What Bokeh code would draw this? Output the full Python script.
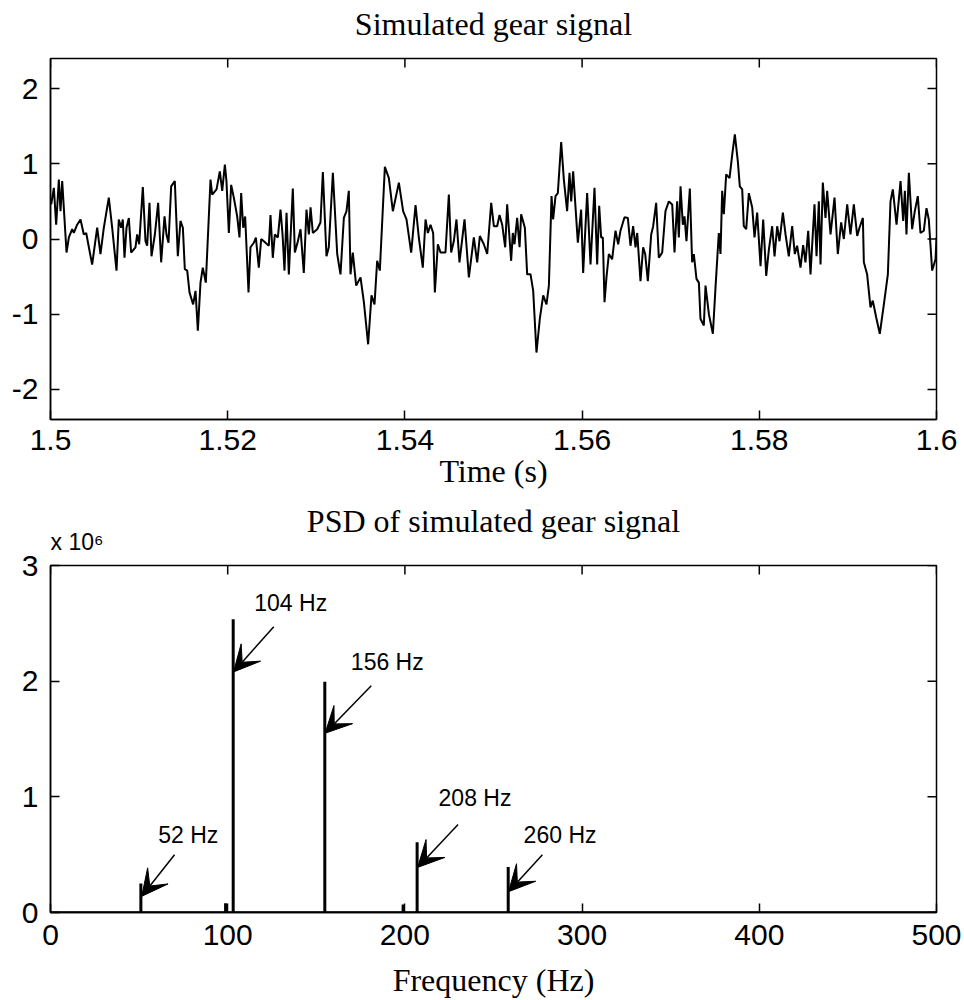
import math
from bokeh.plotting import figure
from bokeh.models import (Range1d, FixedTicker, Arrow, VeeHead, ColumnDataSource, LinearAxis)
from bokeh.layouts import column
from bokeh.core.properties import value
from bokeh.embed import file_html
from bokeh.resources import INLINE

# ---------------- data: simulated gear signal (time in s, amplitude) ----------------
time_s = [
    1.50008, 1.50038, 1.50064, 1.50094, 1.50113, 1.50132, 1.50150, 1.50181, 1.50207, 1.50245,
    1.50263, 1.50301, 1.50339, 1.50376, 1.50403, 1.50433, 1.50470, 1.50527, 1.50564, 1.50602,
    1.50658, 1.50696, 1.50745, 1.50771, 1.50798, 1.50816, 1.50835, 1.50858, 1.50884, 1.50910,
    1.50959, 1.50978, 1.51001, 1.51042, 1.51072, 1.51091, 1.51117, 1.51140, 1.51178, 1.51215,
    1.51249, 1.51287, 1.51309, 1.51332, 1.51362, 1.51403, 1.51437, 1.51467, 1.51494, 1.51516,
    1.51543, 1.51569, 1.51610, 1.51637, 1.51663, 1.51693, 1.51719, 1.51753, 1.51806, 1.51825,
    1.51874, 1.51911, 1.51938, 1.51968, 1.51986, 1.52013, 1.52039, 1.52069, 1.52107, 1.52133,
    1.52152, 1.52175, 1.52197, 1.52235, 1.52257, 1.52295, 1.52318, 1.52351, 1.52378, 1.52408,
    1.52464, 1.52483, 1.52509, 1.52532, 1.52566, 1.52596, 1.52619, 1.52641, 1.52664, 1.52690,
    1.52735, 1.52758, 1.52792, 1.52822, 1.52859, 1.52889, 1.52916, 1.52935, 1.52961, 1.53010,
    1.53047, 1.53074, 1.53115, 1.53141, 1.53187, 1.53236, 1.53273, 1.53311, 1.53341, 1.53367,
    1.53386, 1.53412, 1.53450, 1.53499, 1.53537, 1.53585, 1.53623, 1.53657, 1.53687, 1.53717,
    1.53774, 1.53819, 1.53864, 1.53932, 1.53980, 1.54018, 1.54071, 1.54120, 1.54157, 1.54202,
    1.54233, 1.54259, 1.54289, 1.54319, 1.54338, 1.54372, 1.54402, 1.54458, 1.54496, 1.54522,
    1.54552, 1.54582, 1.54616, 1.54673, 1.54722, 1.54778, 1.54816, 1.54846, 1.54891, 1.54929,
    1.54974, 1.55004, 1.55041, 1.55068, 1.55098, 1.55132, 1.55154, 1.55199, 1.55218, 1.55237,
    1.55267, 1.55294, 1.55312, 1.55354, 1.55380, 1.55418, 1.55448, 1.55485, 1.55523, 1.55561,
    1.55598, 1.55625, 1.55655, 1.55673, 1.55700, 1.55726, 1.55764, 1.55794, 1.55831, 1.55858,
    1.55877, 1.55899, 1.55952, 1.55989, 1.56012, 1.56057, 1.56095, 1.56140, 1.56170, 1.56193,
    1.56215, 1.56234, 1.56253, 1.56275, 1.56302, 1.56339, 1.56377, 1.56407, 1.56433, 1.56479,
    1.56516, 1.56546, 1.56576, 1.56603, 1.56622, 1.56659, 1.56689, 1.56712, 1.56742, 1.56780,
    1.56802, 1.56836, 1.56866, 1.56904, 1.56941, 1.56979, 1.57017, 1.57043, 1.57073, 1.57092,
    1.57111, 1.57137, 1.57156, 1.57178, 1.57216, 1.57242, 1.57261, 1.57291, 1.57318, 1.57336,
    1.57374, 1.57393, 1.57431, 1.57476, 1.57506, 1.57543, 1.57562, 1.57581, 1.57600, 1.57626,
    1.57664, 1.57694, 1.57724, 1.57758, 1.57780, 1.57807, 1.57825, 1.57852, 1.57882, 1.57920,
    1.57946, 1.57976, 1.58014, 1.58044, 1.58078, 1.58108, 1.58145, 1.58172, 1.58202, 1.58228,
    1.58266, 1.58296, 1.58333, 1.58371, 1.58401, 1.58427, 1.58465, 1.58495, 1.58521, 1.58552,
    1.58578, 1.58623, 1.58646, 1.58672, 1.58691, 1.58717, 1.58747, 1.58766, 1.58804, 1.58849,
    1.58886, 1.58924, 1.58954, 1.58992, 1.59029, 1.59067, 1.59105, 1.59131, 1.59169, 1.59180,
    1.59217, 1.59255, 1.59281, 1.59319, 1.59360, 1.59406, 1.59451, 1.59481, 1.59507, 1.59549,
    1.59594, 1.59624, 1.59643, 1.59661, 1.59688, 1.59725, 1.59755, 1.59789, 1.59819, 1.59857,
    1.59887, 1.59913, 1.59951, 1.59989, 1.60000,
]
signal = [
    0.46, 0.68, 0.19, 0.79, 0.37, 0.77, 0.42, -0.18, 0.02, 0.13,
    0.08, 0.19, 0.26, 0.06, 0.08, -0.11, -0.34, 0.15, -0.20, 0.15,
    0.55, 0.15, -0.42, 0.26, 0.15, 0.26, -0.25, 0.15, 0.28, -0.18,
    -0.11, 0.06, -0.07, 0.69, -0.03, -0.09, 0.48, -0.23, 0.06, 0.48,
    -0.31, 0.30, 0.06, -0.05, 0.70, 0.77, -0.23, 0.24, 0.15, -0.40,
    -0.42, -0.71, -0.87, -0.69, -1.22, -0.58, -0.38, -0.58, 0.79, 0.59,
    0.66, 0.90, 0.64, 0.99, 0.77, 0.08, 0.72, 0.55, 0.30, 0.02,
    0.61, 0.15, 0.30, -0.71, -0.11, -0.05, 0.02, -0.38, 0.00, -0.03,
    -0.09, 0.32, -0.25, 0.06, 0.02, 0.39, 0.06, -0.42, 0.35, -0.47,
    0.67, -0.18, -0.03, 0.13, -0.45, 0.39, 0.06, 0.42, 0.08, 0.13,
    0.22, 0.89, -0.23, -0.11, 0.88, -0.20, -0.47, 0.28, 0.37, 0.64,
    -0.47, -0.18, -0.62, -0.51, -0.84, -1.40, -0.75, -0.87, -0.29, -0.42,
    0.96, 0.81, 0.37, 0.75, 0.37, 0.26, -0.18, 0.45, 0.02, -0.38,
    0.26, 0.08, 0.19, 0.08, -0.71, -0.07, -0.18, -0.18, 0.59, -0.18,
    -0.03, 0.26, -0.31, 0.26, -0.51, 0.02, -0.31, 0.04, -0.07, -0.20,
    0.48, 0.17, 0.17, 0.32, 0.19, -0.11, 0.46, -0.29, 0.08, -0.07,
    0.28, -0.11, 0.33, 0.15, -0.47, -0.47, -0.69, -1.51, -1.06, -0.75,
    -0.87, -0.62, 0.57, 0.26, 0.57, 0.61, 1.29, 0.79, 0.37, 0.88,
    0.50, 0.90, -0.05, 0.39, -0.45, 0.61, -0.34, 0.68, -0.34, 0.44,
    0.02, 0.02, -0.84, -0.51, -0.20, -0.27, 0.11, -0.07, 0.11, 0.29,
    0.28, -0.09, 0.17, -0.11, 0.08, -0.56, -0.11, -0.20, -0.56, 0.06,
    0.17, 0.48, -0.25, -0.18, 0.37, 0.50, 0.46, -0.18, 0.50, 0.02,
    0.70, 0.19, 0.30, -0.03, 0.67, -0.31, -0.20, -0.53, -0.58, -1.06,
    -1.15, -0.62, -1.00, -1.26, -0.64, 0.08, -0.20, 0.64, 0.33, 0.86,
    0.81, 1.12, 1.39, 1.03, 0.70, 0.66, 0.17, 0.13, 0.61, 0.42,
    0.02, 0.35, -0.36, 0.26, -0.49, -0.14, 0.17, -0.23, 0.17, -0.03,
    0.35, 0.06, -0.23, 0.17, -0.20, -0.09, -0.38, -0.08, -0.31, 0.11,
    -0.47, 0.46, -0.23, 0.50, -0.34, 0.75, 0.28, 0.64, 0.06, 0.55,
    -0.20, 0.22, 0.00, 0.46, 0.06, 0.46, 0.04, 0.15, 0.28, -0.31,
    -0.47, -0.91, -0.82, -1.04, -1.26, -0.87, -0.47, 0.50, 0.66, 0.19,
    0.77, 0.24, 0.64, 0.06, 0.88, 0.13, 0.37, 0.57, 0.08, 0.11,
    0.41, 0.26, -0.42, -0.27, 0.02,
]
time_ticks = [1.5, 1.52, 1.54, 1.56, 1.58, 1.6]
time_tick_labels = ["1.5", "1.52", "1.54", "1.56", "1.58", "1.6"]
amp_ticks = [-2, -1, 0, 1, 2]
amp_tick_labels = ["-2", "-1", "0", "1", "2"]

# ---------------- data: PSD (x 10^6) ----------------
floor_freq = [0, 500]
floor_psd = [0.0, 0.0]
peak_freq = [51.0, 98.8, 103.1, 154.8, 199.0, 206.9, 258.3]
peak_psd = [0.25, 0.08, 2.535, 1.994, 0.07, 0.607, 0.393]
freq_ticks = [0, 100, 200, 300, 400, 500]
freq_tick_labels = ["0", "100", "200", "300", "400", "500"]
psd_ticks = [0, 1, 2, 3]
psd_tick_labels = ["0", "1", "2", "3"]
psd_scale_note = "x 10\u2076"
psd_scale_note_freq = 15.0   # horizontal centre of the note, in Hz

ann_text = ["52 Hz", "104 Hz", "156 Hz", "208 Hz", "260 Hz"]
ann_text_freq = [60.8, 115.0, 169.5, 219.0, 267.0]
ann_text_psd = [0.67, 2.68, 2.17, 0.99, 0.67]
arrow_tail_freq = [70.0, 126.0, 181.0, 230.0, 277.6]
arrow_tail_psd = [0.50, 2.47, 1.96, 0.76, 0.50]
arrow_tip_freq = [51.5, 103.3, 155.0, 207.2, 258.5]
arrow_tip_psd = [0.14, 2.08, 1.55, 0.39, 0.18]

SANS = "Liberation Sans"
SERIF = "Liberation Serif"
TICK_LEN = 9


def style(p, xt, xl, yt, yl, xlabel, x_std, xlab_std):
    xa, ya = p.xaxis[0], p.yaxis[0]
    xa.ticker = FixedTicker(ticks=xt)
    xa.major_label_overrides = dict(zip(xt, xl))
    ya.ticker = FixedTicker(ticks=yt)
    ya.major_label_overrides = dict(zip(yt, yl))
    for ax in (xa, ya):
        ax.major_tick_in = TICK_LEN
        ax.major_tick_out = 0
        ax.minor_tick_line_color = None
        ax.axis_line_width = 1.5
        ax.major_tick_line_width = 1.5
        ax.major_label_text_font = SANS
        ax.major_label_text_font_size = "30px"
        ax.major_label_text_color = "black"
    xa.major_label_standoff = x_std
    ya.major_label_standoff = 12
    xa.axis_label = xlabel
    xa.axis_label_text_font = SERIF
    xa.axis_label_text_font_style = "normal"
    xa.axis_label_text_font_size = "32px"
    xa.axis_label_text_color = "black"
    xa.axis_label_standoff = xlab_std
    # box ticks on the top and right edges (MATLAB style), inward
    p.ray(x=xt, y=[p.y_range.end] * len(xt), length=TICK_LEN, length_units="screen",
          angle=-math.pi / 2, line_color="black", line_width=1.5)
    p.ray(x=[p.x_range.end] * len(yt), y=yt, length=TICK_LEN, length_units="screen",
          angle=math.pi, line_color="black", line_width=1.5)
    p.xgrid.visible = False
    p.ygrid.visible = False
    p.outline_line_color = "black"
    p.outline_line_width = 1.5
    p.outline_line_alpha = 1.0


def title_axis(title, ticks, overrides, tick_std, title_std):
    """An 'above' axis used only to carry the title text (and an optional note)."""
    ax = LinearAxis(ticker=FixedTicker(ticks=ticks), major_label_overrides=overrides,
                    major_label_text_font=SANS, major_label_text_font_size="23px",
                    major_label_text_color="black",
                    major_label_standoff=tick_std, major_tick_in=0, major_tick_out=0,
                    major_tick_line_color=None, minor_tick_line_color=None,
                    axis_line_color=None,
                    axis_label=title, axis_label_text_font=SERIF,
                    axis_label_text_font_style="normal", axis_label_text_font_size="32px",
                    axis_label_text_color="black", axis_label_standoff=title_std)
    return ax


# ---------------- top figure ----------------
p1 = figure(width=964, height=492, output_backend="svg", toolbar_location=None,
            x_range=Range1d(1.5, 1.6), y_range=Range1d(-2.4, 2.4),
            min_border_left=50, min_border_right=28, min_border_top=58, min_border_bottom=73)
style(p1, time_ticks, time_tick_labels, amp_ticks, amp_tick_labels, "Time (s)", 10, 0)
p1.add_layout(title_axis("Simulated gear signal", [], {}, 0, 17), "above")
p1.line(time_s, signal, line_color="black", line_width=2)

# ---------------- bottom figure ----------------
p2 = figure(width=964, height=508, output_backend="svg", toolbar_location=None,
            x_range=Range1d(0, 500), y_range=Range1d(0, 3),
            min_border_left=50, min_border_right=28, min_border_top=73, min_border_bottom=84)
style(p2, freq_ticks, freq_tick_labels, psd_ticks, psd_tick_labels, "Frequency (Hz)", 12, 14)
p2.add_layout(title_axis("PSD of simulated gear signal", [psd_scale_note_freq],
                         {psd_scale_note_freq: psd_scale_note}, 11, -13), "above")

p2.line(floor_freq, floor_psd, line_color="black", line_width=2.5)
p2.segment(x0=peak_freq, y0=[0] * len(peak_freq), x1=peak_freq, y1=peak_psd,
           line_color="black", line_width=3)

arrow_src = ColumnDataSource(dict(xs=arrow_tail_freq, ys=arrow_tail_psd,
                                  xe=arrow_tip_freq, ye=arrow_tip_psd))
p2.add_layout(Arrow(end=VeeHead(size=26, fill_color="black", line_color="black"),
                    x_start="xs", y_start="ys", x_end="xe", y_end="ye",
                    source=arrow_src, line_color="black", line_width=1.5))

p2.text(x=ann_text_freq, y=ann_text_psd, text=ann_text, text_font=value(SANS),
        text_font_size="23px", text_baseline="middle", text_align="left",
        text_color="black")

layout = column(p1, p2, spacing=0)
open("out.html", "w").write(file_html(layout, INLINE))
